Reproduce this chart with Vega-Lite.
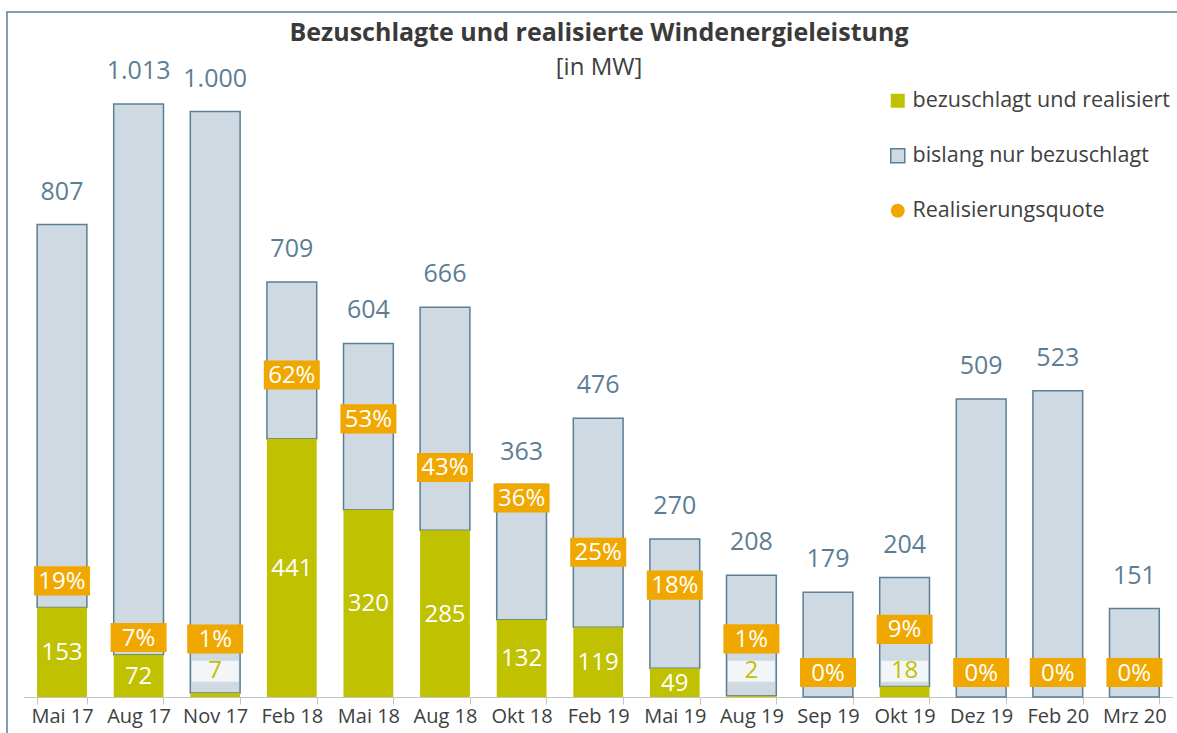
{
  "$schema": "https://vega.github.io/schema/vega-lite/v6.json",
  "width": 1172,
  "height": 723,
  "autosize": {"type": "none"},
  "padding": {"left": 7, "top": 12, "right": -2, "bottom": -2},
  "background": "white",
  "config": {
    "font": "Open Sans",
    "view": {"stroke": "#5b7f96", "strokeWidth": 1.5},
    "locale": {"number": {"decimal": ",", "thousands": ".", "grouping": [3], "currency": ["", " €"]}},
    "legend": {
      "title": null,
      "orient": "none",
      "legendX": 880,
      "legendY": 78,
      "padding": 0,
      "symbolSize": 196,
      "symbolStrokeWidth": 1.5,
      "labelFontSize": 21.5,
      "labelColor": "#404040",
      "labelOffset": 4,
      "labelLimit": 400,
      "rowPadding": 32
    }
  },
  "title": {
    "text": "Bezuschlagte und realisierte Windenergieleistung",
    "subtitle": "[in MW]",
    "fontSize": 25,
    "fontWeight": "bold",
    "color": "#3a3a3a",
    "subtitleFontSize": 24,
    "subtitleColor": "#404040",
    "subtitlePadding": 10,
    "anchor": "middle",
    "frame": "group",
    "offset": -68,
    "dx": 6
  },
  "data": {
    "values": [
      {"monat": "Mai 17", "gesamt": 807, "realisiert": 153, "quote": 0.19},
      {"monat": "Aug 17", "gesamt": 1013, "realisiert": 72, "quote": 0.071},
      {"monat": "Nov 17", "gesamt": 1000, "realisiert": 7, "quote": 0.007},
      {"monat": "Feb 18", "gesamt": 709, "realisiert": 441, "quote": 0.622},
      {"monat": "Mai 18", "gesamt": 604, "realisiert": 320, "quote": 0.53},
      {"monat": "Aug 18", "gesamt": 666, "realisiert": 285, "quote": 0.428},
      {"monat": "Okt 18", "gesamt": 363, "realisiert": 132, "quote": 0.364},
      {"monat": "Feb 19", "gesamt": 476, "realisiert": 119, "quote": 0.25},
      {"monat": "Mai 19", "gesamt": 270, "realisiert": 49, "quote": 0.181},
      {"monat": "Aug 19", "gesamt": 208, "realisiert": 2, "quote": 0.0096},
      {"monat": "Sep 19", "gesamt": 179, "realisiert": 0, "quote": 0},
      {"monat": "Okt 19", "gesamt": 204, "realisiert": 18, "quote": 0.088},
      {"monat": "Dez 19", "gesamt": 509, "realisiert": 0, "quote": 0},
      {"monat": "Feb 20", "gesamt": 523, "realisiert": 0, "quote": 0},
      {"monat": "Mrz 20", "gesamt": 151, "realisiert": 0, "quote": 0}
    ]
  },
  "encoding": {
    "x": {
      "field": "monat",
      "type": "nominal",
      "sort": null,
      "scale": {"range": [16.7, 1165.7], "paddingInner": 0.35, "paddingOuter": 0.175},
      "axis": {
        "title": null,
        "orient": "bottom",
        "offset": -38,
        "tickBand": "extent",
        "domainColor": "#c4c4c4",
        "domainWidth": 1,
        "tickColor": "#c4c4c4",
        "tickWidth": 1,
        "tickSize": 7,
        "labelFontSize": 20,
        "labelColor": "#404040",
        "labelPadding": 2,
        "labelAngle": 0
      }
    }
  },
  "layer": [
    {
      "mark": {"type": "bar", "stroke": "#5b7f96", "strokeWidth": 1.5},
      "encoding": {
        "y": {"field": "gesamt", "type": "quantitative", "scale": {"domain": [0, 1013], "range": [685, 92], "nice": false}, "axis": null},
        "y2": {"field": "realisiert"},
        "color": {
          "datum": "bislang nur bezuschlagt",
          "type": "nominal",
          "scale": {
            "domain": ["bezuschlagt und realisiert", "bislang nur bezuschlagt", "Realisierungsquote"],
            "range": ["#c0c100", "#cfd9e1", "#f0a800"]
          }
        }
      }
    },
    {
      "mark": {"type": "bar"},
      "encoding": {
        "y": {"field": "realisiert", "type": "quantitative", "scale": {"domain": [0, 1013], "range": [685, 92], "nice": false}, "axis": null},
        "color": {"datum": "bezuschlagt und realisiert", "type": "nominal"}
      }
    },
    {
      "transform": [{"filter": "datum.realisiert > 0 && datum.realisiert < 30"}],
      "mark": {"type": "bar", "fill": "white", "fillOpacity": 0.75, "width": {"band": 0.94}},
      "encoding": {
        "y": {"datum": 26, "type": "quantitative", "scale": {"domain": [0, 1013], "range": [685, 92], "nice": false}, "axis": null},
        "y2": {"datum": 62}
      }
    },
    {
      "transform": [{"filter": "datum.realisiert > 0 && datum.realisiert < 30"}],
      "mark": {"type": "text", "fontSize": 24, "color": "#c0c100", "baseline": "middle"},
      "encoding": {
        "y": {"datum": 45, "type": "quantitative", "scale": {"domain": [0, 1013], "range": [685, 92], "nice": false}, "axis": null},
        "text": {"field": "realisiert", "type": "quantitative"}
      }
    },
    {
      "transform": [{"filter": "datum.realisiert >= 30"}],
      "mark": {"type": "text", "fontSize": 24, "color": "white", "baseline": "middle", "dy": 1},
      "encoding": {
        "y": {"field": "realisiert", "type": "quantitative", "scale": {"domain": [0, 2026], "range": [685, 92], "nice": false}, "axis": null},
        "text": {"field": "realisiert", "type": "quantitative"}
      }
    },
    {
      "mark": {"type": "text", "fontSize": 25, "color": "#5d7d94", "baseline": "alphabetic", "dy": -25},
      "encoding": {
        "y": {"field": "gesamt", "type": "quantitative", "scale": {"domain": [0, 1013], "range": [685, 92], "nice": false}, "axis": null},
        "text": {"field": "gesamt", "type": "quantitative", "format": ",d"}
      }
    },
    {
      "mark": {"type": "point", "shape": "M-1,-0.52H1V0.52H-1Z", "size": 3136, "filled": true, "fill": "#f0a800", "opacity": 1, "strokeWidth": 0},
      "encoding": {
        "y": {"field": "quote", "type": "quantitative", "scale": {"domain": [0, 0.005, 0.07, 1.191], "range": [660.5, 627, 626, 92], "nice": false, "zero": false}, "axis": null}
      }
    },
    {
      "mark": {"type": "text", "fontSize": 24, "color": "white", "baseline": "middle", "dy": 1},
      "encoding": {
        "y": {"field": "quote", "type": "quantitative", "scale": {"domain": [0, 0.005, 0.07, 1.191], "range": [660.5, 627, 626, 92], "nice": false, "zero": false}, "axis": null},
        "text": {"field": "quote", "type": "quantitative", "format": ".0%"}
      }
    },
    {
      "transform": [{"filter": "false"}],
      "mark": {"type": "point", "filled": true, "opacity": 1, "strokeWidth": 1.5},
      "encoding": {
        "color": {"field": "serie", "type": "nominal"},
        "shape": {
          "field": "serie",
          "type": "nominal",
          "scale": {
            "domain": ["bezuschlagt und realisiert", "bislang nur bezuschlagt", "Realisierungsquote"],
            "range": ["square", "square", "circle"]
          }
        },
        "stroke": {
          "field": "serie",
          "type": "nominal",
          "scale": {
            "domain": ["bezuschlagt und realisiert", "bislang nur bezuschlagt", "Realisierungsquote"],
            "range": ["transparent", "#5b7f96", "transparent"]
          }
        }
      }
    }
  ],
  "resolve": {"scale": {"y": "independent"}}
}
